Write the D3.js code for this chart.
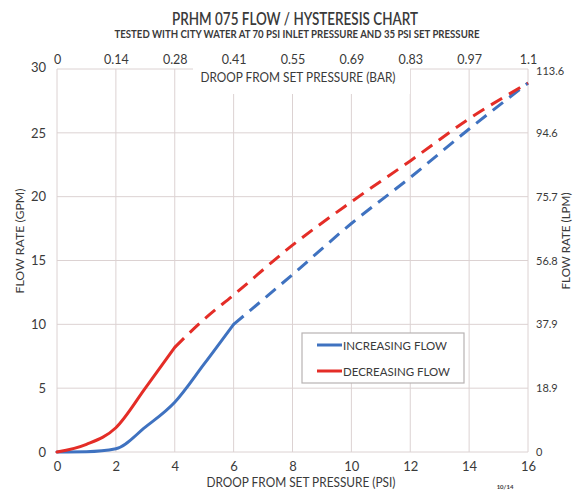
<!DOCTYPE html>
<html>
<head>
<meta charset="utf-8">
<script src="https://cdn.jsdelivr.net/npm/d3@7"></script>
<style>
  html, body { margin: 0; padding: 0; background: #fff; }
  svg { display: block; }
  text { font-family: Lato, "Open Sans", sans-serif; fill: #3a3a3a; }
</style>
</head>
<body>
<svg id="chart" width="574" height="491"></svg>
<script>
// ---- data ----
const psi = [0, 1, 2, 3, 4, 5, 6, 8, 10, 12, 14, 16];
const increasingFlow = [0, 0.02, 0.25, 1.95, 3.9, 6.9, 10, 13.9, 17.9, 21.5, 25.3, 28.9];
const decreasingFlow = [0, 0.6, 1.9, 5.0, 8.2, 10.4, 12.3, 16.2, 19.6, 22.8, 26.1, 28.9];
const increasingSolidUntil = 6;   // psi, measured part (solid), then dashed
const decreasingSolidUntil = 4;
const psiTicks = [0, 2, 4, 6, 8, 10, 12, 14, 16];
const barTickLabels = ["0", "0.14", "0.28", "0.41", "0.55", "0.69", "0.83", "0.97", "1.1"];
const gpmTicks = [0, 5, 10, 15, 20, 25, 30];
const lpmTickLabels = ["0", "18.9", "37.9", "56.8", "75.7", "94.6", "113.6"];
const seriesNames = ["INCREASING FLOW", "DECREASING FLOW"];
const seriesColors = ["#3f72c0", "#e42d27"];

// ---- layout ----
const svg = d3.select("#chart");
const L = 57, R = 528, T = 69, B = 452;
const x = d3.scaleLinear().domain([0, 16]).range([L, R]);
const y = d3.scaleLinear().domain([0, 30]).range([B, T]);
const gridColor = "#dcd2d2";

function fit(sel, w) { sel.attr("textLength", w).attr("lengthAdjust", "spacingAndGlyphs"); return sel; }

// titles
fit(svg.append("text").attr("x", 295).attr("y", 25).attr("text-anchor", "middle")
  .style("font-size", "17px").style("font-weight", "600")
  .text("PRHM 075 FLOW / HYSTERESIS CHART"), 246);
fit(svg.append("text").attr("x", 297).attr("y", 38).attr("text-anchor", "middle")
  .style("font-size", "10.5px").style("font-weight", "700")
  .text("TESTED WITH CITY WATER AT 70 PSI INLET PRESSURE AND 35 PSI SET PRESSURE"), 365);

// grid
const grid = svg.append("g");
grid.selectAll("line.h").data(gpmTicks).join("line")
  .attr("x1", L).attr("x2", R).attr("y1", d => y(d)).attr("y2", d => y(d))
  .attr("stroke", gridColor).attr("stroke-width", 1);
grid.selectAll("line.v").data(psiTicks).join("line")
  .attr("x1", d => x(d)).attr("x2", d => x(d)).attr("y1", T).attr("y2", B)
  .attr("stroke", gridColor).attr("stroke-width", 1);

// white area behind top axis title (as in reference)
svg.append("rect").attr("x", 193).attr("y", T - 2).attr("width", 217).attr("height", 27).attr("fill", "#fff");

// bottom axis
const xAxisB = d3.axisBottom(x).tickValues(psiTicks).tickSize(0).tickPadding(10);
const gB = svg.append("g").attr("transform", `translate(0,${B})`).call(xAxisB);
// top axis
const xAxisT = d3.axisTop(x).tickValues(psiTicks).tickSize(0).tickPadding(5)
  .tickFormat((d, i) => barTickLabels[i]);
const gT = svg.append("g").attr("transform", `translate(0,${T})`).call(xAxisT);
// left axis
const yAxisL = d3.axisLeft(y).tickValues(gpmTicks).tickSize(0).tickPadding(11);
const gL = svg.append("g").attr("transform", `translate(${L},0)`).call(yAxisL);
// right axis
const yAxisR = d3.axisRight(y).tickValues(gpmTicks).tickSize(0).tickPadding(8)
  .tickFormat((d, i) => lpmTickLabels[i]);
const gR = svg.append("g").attr("transform", `translate(${R},0)`).call(yAxisR);

[gB, gT, gL, gR].forEach(g => {
  g.select(".domain").remove();
  g.selectAll("text").style("font-family", "Lato, sans-serif").style("fill", "#3a3a3a");
});
gB.selectAll("text").style("font-size", "13px");
gT.selectAll("text").style("font-size", "12.5px");
gL.selectAll("text").style("font-size", "13px");
gR.selectAll("text").style("font-size", "11px");
gL.selectAll(".tick").filter(d => d === 30).select("text").attr("dy", "0.2em");
gR.selectAll(".tick").filter(d => d === 30).select("text").attr("dy", "0.5em");

// axis titles
fit(svg.append("text").attr("x", 298).attr("y", 82).attr("text-anchor", "middle")
  .style("font-size", "12.5px").text("DROOP FROM SET PRESSURE (BAR)"), 195);
fit(svg.append("text").attr("x", 301).attr("y", 487).attr("text-anchor", "middle")
  .style("font-size", "12.5px").text("DROOP FROM SET PRESSURE (PSI)"), 189);
fit(svg.append("text").attr("transform", "translate(24,241) rotate(-90)").attr("text-anchor", "middle")
  .style("font-size", "11.5px").text("FLOW RATE (GPM)"), 105);
fit(svg.append("text").attr("transform", "translate(570,241) rotate(-90)").attr("text-anchor", "middle")
  .style("font-size", "11px").text("FLOW RATE (LPM)"), 97);
svg.append("text").attr("x", 505).attr("y", 489).attr("text-anchor", "middle")
  .style("font-size", "6px").style("font-weight", "700").text("10/14");

// lines
const line = d3.line().x(d => x(d[0])).y(d => y(d[1])).curve(d3.curveMonotoneX);
const series = [
  { vals: increasingFlow, split: increasingSolidUntil, color: seriesColors[0] },
  { vals: decreasingFlow, split: decreasingSolidUntil, color: seriesColors[1] }
];
const lines = svg.append("g");
series.forEach(s => {
  const pts = psi.map((p, i) => [p, s.vals[i]]);
  const solid = pts.filter(d => d[0] <= s.split);
  const dashed = pts.filter(d => d[0] >= s.split);
  lines.append("path").attr("d", line(solid)).attr("fill", "none")
    .attr("stroke", s.color).attr("stroke-width", 3).attr("stroke-linecap", "round");
  lines.append("path").attr("d", line(dashed)).attr("fill", "none")
    .attr("stroke", s.color).attr("stroke-width", 3).attr("stroke-dasharray", "13,8");
});

// legend
const lg = svg.append("g").attr("transform", "translate(302,333)");
lg.append("rect").attr("width", 162).attr("height", 50).attr("fill", "#fff")
  .attr("stroke", "#b8b3b3").attr("stroke-width", 1.2);
seriesNames.forEach((n, i) => {
  const yy = 12 + i * 26;
  lg.append("line").attr("x1", 15).attr("x2", 40).attr("y1", yy).attr("y2", yy)
    .attr("stroke", seriesColors[i]).attr("stroke-width", 3);
  fit(lg.append("text").attr("x", 41).attr("y", yy + 4.5).style("font-size", "12px")
    .text(n), i === 0 ? 104 : 107);
});
</script>
</body>
</html>
